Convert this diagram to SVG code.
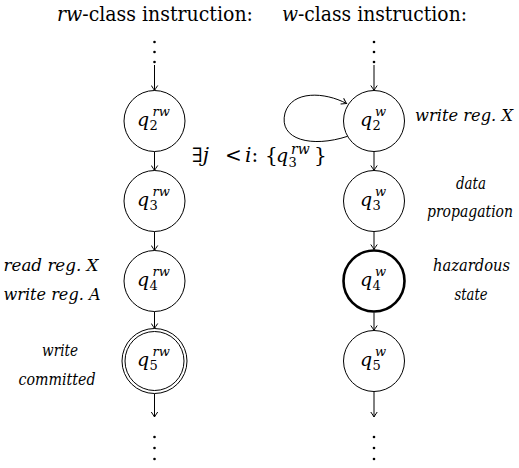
<svg xmlns="http://www.w3.org/2000/svg" width="519" height="468" viewBox="0 0 519 468" font-family="DejaVu Serif">
<style>
.t{font-size:20px}
.i{font-style:italic}
.q{font-size:19px;font-style:italic}
.s{font-size:13px;font-style:normal}
.si{font-size:13px;font-style:italic}
.lab{font-size:16px;font-style:italic;text-anchor:middle}
.n{fill:#fff;stroke:#000;stroke-width:1}
.e{fill:none;stroke:#000;stroke-width:1}
.dot{fill:#000}
</style>
<defs>
<marker id="a" viewBox="-6 -4 7 8" refX="0" refY="0" markerWidth="7" markerHeight="8" markerUnits="userSpaceOnUse" orient="auto">
<path d="M-5,-3.2 Q-1.5,-0.8 0,0 Q-1.5,0.8 -5,3.2" fill="none" stroke="#000" stroke-width="1"/>
</marker>
</defs>

<text class="t" x="57" y="21" textLength="196" lengthAdjust="spacingAndGlyphs"><tspan class="i">rw</tspan>-class instruction:</text>
<text class="t" x="282" y="21" textLength="185" lengthAdjust="spacingAndGlyphs"><tspan class="i">w</tspan>-class instruction:</text>

<g id="dots">
<circle class="dot" cx="154.5" cy="42" r="1.3"/><circle class="dot" cx="154.5" cy="52" r="1.3"/><circle class="dot" cx="154.5" cy="62" r="1.3"/>
<circle class="dot" cx="374" cy="42" r="1.3"/><circle class="dot" cx="374" cy="52" r="1.3"/><circle class="dot" cx="374" cy="62" r="1.3"/>
<circle class="dot" cx="154.5" cy="437" r="1.3"/><circle class="dot" cx="154.5" cy="448" r="1.3"/><circle class="dot" cx="154.5" cy="459" r="1.3"/>
<circle class="dot" cx="374" cy="437" r="1.3"/><circle class="dot" cx="374" cy="448" r="1.3"/><circle class="dot" cx="374" cy="459" r="1.3"/>
</g>

<g id="connectors">
<path class="e" d="M154.5,65 V90.5" marker-end="url(#a)"/>
<path class="e" d="M154.5,151.5 V170.5" marker-end="url(#a)"/>
<path class="e" d="M154.5,231.5 V250.5" marker-end="url(#a)"/>
<path class="e" d="M154.5,311.5 V328.5" marker-end="url(#a)"/>
<path class="e" d="M154.5,393.5 V417" marker-end="url(#a)"/>
<path class="e" d="M374,65 V90.5" marker-end="url(#a)"/>
<path class="e" d="M374,151.5 V170.5" marker-end="url(#a)"/>
<path class="e" d="M374,231.5 V249.5" marker-end="url(#a)"/>
<path class="e" d="M374,312.5 V330.5" marker-end="url(#a)"/>
<path class="e" d="M374,391.5 V417" marker-end="url(#a)"/>
<path class="e" d="M347.6,136.3 C312,148 278,140 285,113 C292,90 325,92 346.5,103.5" marker-end="url(#a)"/>
<text font-size="20" x="192" y="162">∃<tspan class="i">j</tspan><tspan x="225">&lt;</tspan><tspan class="i" x="245">i</tspan>:<tspan x="265">{</tspan><tspan class="q" x="276">q</tspan><tspan class="s" x="288.5" y="167">3</tspan><tspan font-size="14" class="i" x="291" y="154">rw</tspan><tspan x="314" y="162">}</tspan></text>
</g>

<g id="q2rw">
<circle class="n" cx="154.5" cy="121" r="30.5"/>
<text x="137" y="126"><tspan class="q">q</tspan><tspan class="s" x="149.5" y="130">2</tspan><tspan class="si" x="152.5" y="116">rw</tspan></text>
</g>
<g id="q3rw">
<circle class="n" cx="154.5" cy="201" r="30.5"/>
<text x="137" y="206"><tspan class="q">q</tspan><tspan class="s" x="149.5" y="210">3</tspan><tspan class="si" x="152.5" y="196">rw</tspan></text>
</g>
<g id="q4rw">
<circle class="n" cx="154.5" cy="281" r="30.5"/>
<text x="137" y="286"><tspan class="q">q</tspan><tspan class="s" x="149.5" y="290">4</tspan><tspan class="si" x="152.5" y="276">rw</tspan></text>
<text class="lab" x="51" y="271" textLength="95" lengthAdjust="spacingAndGlyphs">read reg. X</text>
<text class="lab" x="52" y="300" textLength="97" lengthAdjust="spacingAndGlyphs">write reg. A</text>
</g>
<g id="q5rw">
<circle class="n" cx="154.5" cy="361" r="32.5"/>
<circle class="n" cx="154.5" cy="361" r="29.5"/>
<text x="137" y="366"><tspan class="q">q</tspan><tspan class="s" x="149.5" y="370">5</tspan><tspan class="si" x="152.5" y="356">rw</tspan></text>
<text class="lab" x="60" y="356" textLength="36" lengthAdjust="spacingAndGlyphs">write</text>
<text class="lab" x="57" y="385" textLength="77" lengthAdjust="spacingAndGlyphs">committed</text>
</g>

<g id="q2w">
<circle class="n" cx="374" cy="121" r="30.5"/>
<text x="360" y="126"><tspan class="q">q</tspan><tspan class="s" x="372.5" y="130">2</tspan><tspan class="si" x="375" y="116">w</tspan></text>
<text class="lab" x="464" y="121" textLength="98" lengthAdjust="spacingAndGlyphs">write reg. X</text>
</g>
<g id="q3w">
<circle class="n" cx="374" cy="201" r="30.5"/>
<text x="360" y="206"><tspan class="q">q</tspan><tspan class="s" x="372.5" y="210">3</tspan><tspan class="si" x="375" y="196">w</tspan></text>
<text class="lab" x="471" y="189" textLength="30" lengthAdjust="spacingAndGlyphs">data</text>
<text class="lab" x="470" y="217" textLength="86" lengthAdjust="spacingAndGlyphs">propagation</text>
</g>
<g id="q4w">
<circle class="n" cx="374" cy="281" r="30.5" style="stroke-width:2.6"/>
<text x="360" y="286"><tspan class="q">q</tspan><tspan class="s" x="372.5" y="290">4</tspan><tspan class="si" x="375" y="276">w</tspan></text>
<text class="lab" x="471.5" y="271" textLength="77" lengthAdjust="spacingAndGlyphs">hazardous</text>
<text class="lab" x="471" y="300" textLength="33" lengthAdjust="spacingAndGlyphs">state</text>
</g>
<g id="q5w">
<circle class="n" cx="374" cy="361" r="30.5"/>
<text x="360" y="366"><tspan class="q">q</tspan><tspan class="s" x="372.5" y="370">5</tspan><tspan class="si" x="375" y="356">w</tspan></text>
</g>
</svg>
